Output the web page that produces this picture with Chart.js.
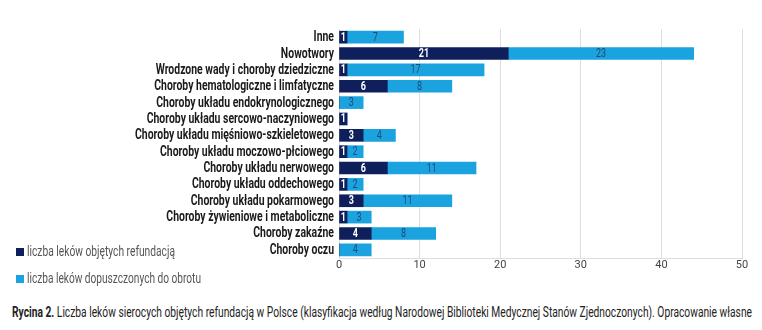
<!DOCTYPE html>
<html><head><meta charset="utf-8">
<script src="https://cdn.jsdelivr.net/npm/chart.js@4"></script>
<style>
html,body{margin:0;padding:0;background:#fff;}
#wrap{position:relative;width:762px;height:330px;overflow:hidden;}
#c{position:absolute;left:0;top:0;}
.sq{position:absolute;left:16px;width:8px;height:8px;}
.txt{position:absolute;font-family:Roboto,"DejaVu Sans",sans-serif;white-space:nowrap;transform-origin:0 0;}
.leg{left:27px;font-size:14px;color:#555;}
#cap{left:12px;top:304px;font-size:14px;color:#222;}
</style></head>
<body><div id="wrap">
<canvas id="c" width="762" height="280"></canvas>
<div class="sq" style="top:248px;background:#0f1f5c"></div>
<div class="txt leg" id="l1" data-w="148" style="top:243px"></div>
<div class="sq" style="top:275px;background:#1aa3df"></div>
<div class="txt leg" id="l2" data-w="174" style="top:270px"></div>
<div class="txt" id="cap" data-w="740"><b>Rycina 2.</b> Liczba leków sierocych objętych refundacją w Polsce (klasyfikacja według Narodowej Biblioteki Medycznej Stanów Zjednoczonych). Opracowanie własne</div>
</div>
<script>
const categories = [
  "Inne",
  "Nowotwory",
  "Wrodzone wady i choroby dziedziczne",
  "Choroby hematologiczne i limfatyczne",
  "Choroby układu endokrynologicznego",
  "Choroby układu sercowo-naczyniowego",
  "Choroby układu mięśniowo-szkieletowego",
  "Choroby układu moczowo-płciowego",
  "Choroby układu nerwowego",
  "Choroby układu oddechowego",
  "Choroby układu pokarmowego",
  "Choroby żywieniowe i metaboliczne",
  "Choroby zakaźne",
  "Choroby oczu"
];
const refunded = [1, 21, 1, 6, 0, 1, 3, 1, 6, 1, 3, 1, 4, 0];
const approved = [7, 23, 17, 8, 3, 0, 4, 2, 11, 2, 11, 3, 8, 4];
const seriesNames = ["liczba leków objętych refundacją", "liczba leków dopuszczonych do obrotu"];
const xTicks = [0, 10, 20, 30, 40, 50];

document.getElementById('l1').textContent = seriesNames[0];
document.getElementById('l2').textContent = seriesNames[1];
document.querySelectorAll('.txt').forEach(el => {
  const w = el.getBoundingClientRect().width;
  const k = (+el.dataset.w) / w;
  el.style.transform = 'scaleX(' + k + ')';
});

const FONT = 'Roboto, "DejaVu Sans", sans-serif';
const LABEL_TARGET = 199; // longest category label width
const LABEL_RIGHT = 334;

const catLabels = {
  id: 'catLabels',
  afterDraw(chart) {
    const ctx = chart.ctx;
    const ys = chart.scales.y;
    ctx.save();
    ctx.font = 'bold 14px ' + FONT;
    let maxW = 0;
    categories.forEach(c => { maxW = Math.max(maxW, ctx.measureText(c).width); });
    const k = LABEL_TARGET / maxW;
    ctx.fillStyle = '#1a1a1a';
    ctx.textAlign = 'right';
    ctx.textBaseline = 'middle';
    categories.forEach((c, i) => {
      const y = ys.getPixelForValue(i);
      ctx.save();
      ctx.translate(LABEL_RIGHT, y + 0.5);
      ctx.scale(k, 1);
      ctx.fillText(c, 0, 0);
      ctx.restore();
    });
    ctx.restore();
  }
};

const barLabels = {
  id: 'barLabels',
  afterDatasetsDraw(chart) {
    const ctx = chart.ctx;
    chart.data.datasets.forEach((ds, di) => {
      const meta = chart.getDatasetMeta(di);
      meta.data.forEach((el, i) => {
        const v = ds.data[i];
        if (!v) return;
        const cx = (el.x + el.base) / 2;
        ctx.save();
        ctx.translate(cx, el.y + 0.5);
        ctx.scale(0.75, 1);
        ctx.font = (di === 0 ? 'bold ' : '') + '12px ' + FONT;
        ctx.fillStyle = di === 0 ? '#ffffff' : '#1e4a7a';
        ctx.textAlign = 'center';
        ctx.textBaseline = 'middle';
        ctx.fillText(String(v), 0, 0);
        ctx.restore();
      });
    });
  }
};

new Chart(document.getElementById('c'), {
  type: 'bar',
  data: {
    labels: categories,
    datasets: [
      { label: seriesNames[0], data: refunded, backgroundColor: '#0f1f5c', barThickness: 12 },
      { label: seriesNames[1], data: approved, backgroundColor: '#1aa3df', barThickness: 12 }
    ]
  },
  options: {
    indexAxis: 'y',
    responsive: false,
    animation: false,
    layout: { padding: { top: 29, right: 20, left: 0, bottom: 0 } },
    plugins: { legend: { display: false }, tooltip: { enabled: false } },
    scales: {
      x: {
        stacked: true, min: 0, max: 50,
        afterBuildTicks(s) { s.ticks = xTicks.map(v => ({ value: v })); },
        afterFit(s) { s.height = 22; },
        grid: { color: '#dedede', drawTicks: false },
        border: { color: '#dedede' },
        ticks: { color: '#444', padding: 1, font: { family: FONT, size: 11 } }
      },
      y: {
        stacked: true,
        afterFit(s) { s.width = 339; },
        grid: { display: false },
        border: { display: false },
        ticks: { display: false, autoSkip: false }
      }
    }
  },
  plugins: [barLabels, catLabels]
});
</script>
</body></html>
